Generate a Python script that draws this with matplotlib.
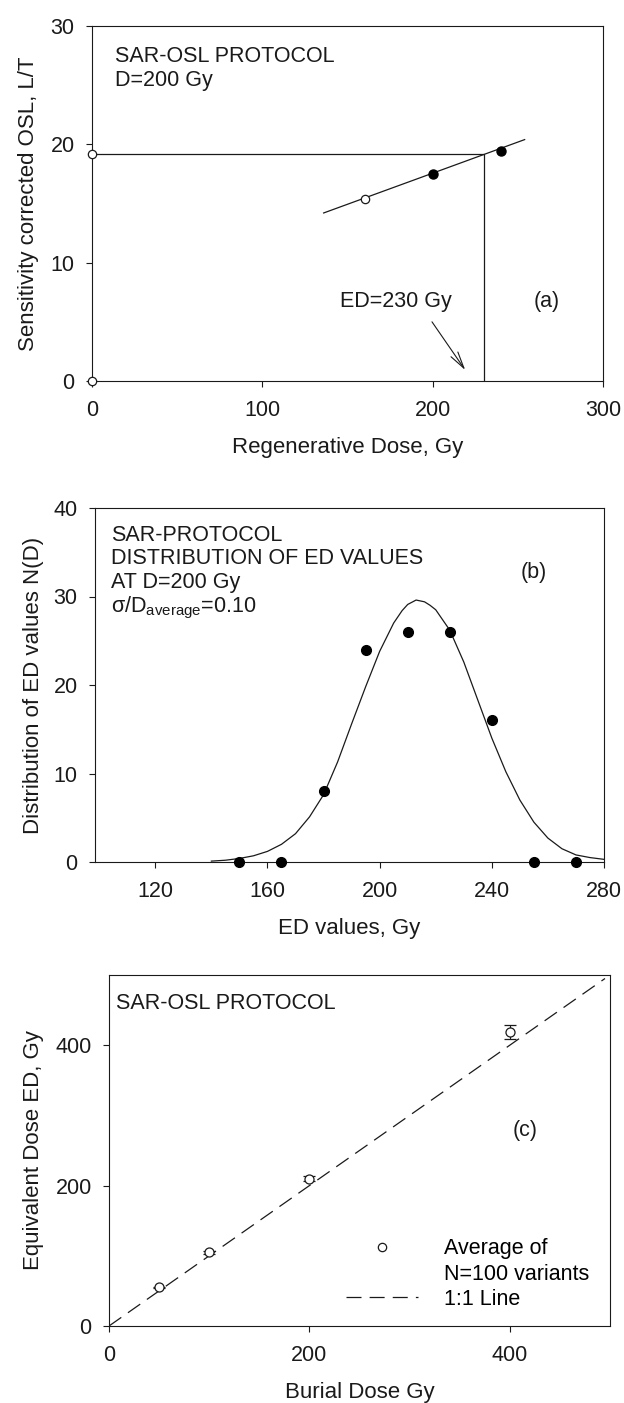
"""
Three-panel SAR-OSL figure: growth curve (a), ED distribution (b),
ED vs burial dose (c). Saves out.png.
"""
import matplotlib
matplotlib.use("Agg")
import matplotlib.pyplot as plt
from matplotlib.lines import Line2D

plt.rcParams['font.family'] = ['Liberation Sans', 'DejaVu Sans']
plt.rcParams['mathtext.fontset'] = 'custom'
plt.rcParams['mathtext.rm'] = 'Liberation Sans'
plt.rcParams['mathtext.it'] = 'Liberation Sans:italic'

FS = 15.5
INK = '#1a1a1a'

# panel (a): regenerative dose vs L/T
open_dose = [0, 0, 160]
open_lt = [0, 19.2, 15.4]
fill_dose = [200, 240]
fill_lt = [17.5, 19.4]
fit_dose = [136, 254]
fit_lt = [14.2, 20.4]
natural_lt = 19.2
ed_found = 230

# panel (b): distribution of ED values
ed_bins = [150, 165, 180, 195, 210, 225, 240, 255, 270]
ed_counts = [0, 0, 8, 24, 26, 26, 16, 0, 0]
# fitted curve
curve_x = [140, 145, 150, 155, 160, 165, 170, 175, 180, 185, 190, 195, 200,
           205, 208, 210, 213, 216, 218, 220, 225, 230, 235, 240, 245, 250,
           255, 260, 265, 270, 275, 280]
curve_y = [0.1, 0.2, 0.4, 0.7, 1.2, 2.0, 3.2, 5.1, 7.6, 11.3, 15.6, 19.8,
           23.8, 27.0, 28.4, 29.1, 29.6, 29.4, 29.0, 28.5, 26.2, 22.6, 18.3,
           14.0, 10.2, 7.0, 4.5, 2.7, 1.5, 0.8, 0.5, 0.3]

# panel (c): burial dose vs equivalent dose
burial = [50, 100, 200, 400]
ed_avg = [55, 105, 210, 419]
ed_err = [1, 2, 3, 10]
line_11 = [0, 495]

W, H = 624, 1403
fig = plt.figure(figsize=(W / 100, H / 100), dpi=100)


def box(l, r, t, b):
    return [l / W, 1 - b / H, (r - l) / W, (b - t) / H]


def style(ax):
    for s in ax.spines.values():
        s.set_linewidth(0.8)
        s.set_color(INK)
    ax.tick_params(direction='out', length=4.5, width=0.8, labelsize=FS,
                   colors=INK, top=False, right=False)
    ax.tick_params(axis='x', pad=9.5)
    ax.tick_params(axis='y', pad=8)


# ---- (a)
ax = fig.add_axes(box(92, 603, 26, 381))
style(ax)
ax.set_xlim(0, 300); ax.set_ylim(0, 30)
ax.set_xticks([0, 100, 200, 300]); ax.set_yticks([0, 10, 20, 30])
ax.plot([0, ed_found, ed_found], [natural_lt, natural_lt, 0], color=INK, lw=0.9)
ax.plot(fit_dose, fit_lt, color=INK, lw=0.9)
ax.plot(fill_dose, fill_lt, 'o', color='black', ms=6.5, zorder=5)
ax.plot(open_dose, open_lt, 'o', mfc='white', mec=INK, mew=0.9, ms=6,
        zorder=6, clip_on=False)
ax.annotate('', xy=(219.1, 0.93), xytext=(199.6, 5.0),
            arrowprops=dict(arrowstyle='->,head_length=1.2,head_width=0.3',
                            lw=0.8, color=INK, shrinkA=0, shrinkB=0))
ax.text(178.4, 6.7, 'ED=230 Gy', fontsize=FS, ha='center', va='center', color=INK)
ax.text(266.7, 6.7, '(a)', fontsize=FS, ha='center', va='center', color=INK)
ax.text(0.045, 0.899, 'SAR-OSL PROTOCOL', transform=ax.transAxes, fontsize=FS,
        va='baseline', color=INK)
ax.text(0.045, 0.832, 'D=200 Gy', transform=ax.transAxes, fontsize=FS,
        va='baseline', color=INK)
ax.set_xlabel('Regenerative Dose, Gy', fontsize=FS + 0.5, labelpad=11.5, color=INK)
ax.set_ylabel('Sensitivity corrected OSL, L/T', fontsize=FS + 0.5, color=INK)
ax.yaxis.set_label_coords(-0.104, 0.5)

# ---- (b)
ax = fig.add_axes(box(95, 604, 508, 862))
style(ax)
ax.set_xlim(98.5, 280); ax.set_ylim(0, 40)
ax.set_xticks([120, 160, 200, 240, 280]); ax.set_yticks([0, 10, 20, 30, 40])
ax.plot(curve_x, curve_y, color=INK, lw=0.9)
ax.plot(ed_bins, ed_counts, 'o', color='black', ms=7, zorder=5, clip_on=False)
lines_b = ['SAR-PROTOCOL', 'DISTRIBUTION OF ED VALUES', 'AT D=200 Gy',
           'σ/D$_{\\mathregular{average}}$=0.10']
for txt, yb in zip(lines_b, [0.907, 0.841, 0.773, 0.705]):
    ax.text(0.031, yb, txt, transform=ax.transAxes, fontsize=FS,
            va='baseline', color=INK)
ax.text(255, 32.7, '(b)', fontsize=FS, ha='center', va='center', color=INK)
ax.set_xlabel('ED values, Gy', fontsize=FS + 0.5, labelpad=11.5, color=INK)
ax.set_ylabel('Distribution of ED values N(D)', fontsize=FS + 0.5, color=INK)
ax.yaxis.set_label_coords(-0.100, 0.5)

# ---- (c)
ax = fig.add_axes(box(109, 610, 975, 1326))
style(ax)
ax.set_xlim(0, 500); ax.set_ylim(0, 500)
ax.set_xticks([0, 200, 400]); ax.set_yticks([0, 200, 400])
ax.plot(line_11, line_11, color=INK, lw=0.9, dashes=(12, 6.5))
ax.errorbar(burial, ed_avg, yerr=ed_err, fmt='o', mfc='white', mec=INK,
            mew=0.9, ms=6.5, ecolor=INK, elinewidth=0.8, capsize=4,
            capthick=0.8, zorder=5)
ax.text(0.014, 0.903, 'SAR-OSL PROTOCOL', transform=ax.transAxes, fontsize=FS,
        va='baseline', color=INK)
ax.text(415, 278, '(c)', fontsize=FS, ha='center', va='center', color=INK)
handles = [Line2D([], [], ls='none', marker='o', mfc='white', mec=INK, mew=0.9, ms=6),
           Line2D([], [], ls='none'),
           Line2D([], [], color=INK, lw=0.9, dashes=(12, 6.5))]
ax.legend(handles, ['Average of', 'N=100 variants', '1:1 Line'],
          loc='upper left', bbox_to_anchor=(0.474, 0.250), frameon=False,
          fontsize=FS, handlelength=3.3, handletextpad=1.25, labelspacing=0.2,
          borderpad=0, borderaxespad=0)
ax.set_xlabel('Burial Dose Gy', fontsize=FS + 0.5, labelpad=11.5, color=INK)
ax.set_ylabel('Equivalent Dose ED, Gy', fontsize=FS + 0.5, color=INK)
ax.yaxis.set_label_coords(-0.130, 0.5)

fig.savefig('out.png', dpi=100)
